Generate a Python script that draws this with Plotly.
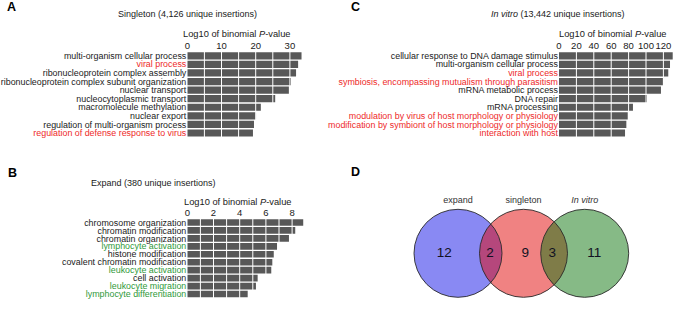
import numpy as np
import plotly.graph_objects as go

W, H = 675, 309

# ---------------- data ----------------
A_terms = ["multi-organism cellular process", "viral process", "ribonucleoprotein complex assembly",
           "ribonucleoprotein complex subunit organization", "nuclear transport",
           "nucleocytoplasmic transport", "macromolecule methylation", "nuclear export",
           "regulation of multi-organism process", "regulation of defense response to virus"]
A_vals = [33.4, 32.4, 31.8, 30.3, 29.7, 25.7, 21.5, 20.1, 19.5, 19.2]
A_hl = [0, 1, 0, 0, 0, 0, 0, 0, 0, 1]

B_terms = ["chromosome organization", "chromatin modification", "chromatin organization",
           "lymphocyte activation", "histone modification", "covalent chromatin modification",
           "leukocyte activation", "cell activation", "leukocyte migration", "lymphocyte differentiation"]
B_vals = [8.85, 8.24, 7.76, 6.85, 6.6, 6.49, 6.41, 5.37, 5.24, 4.61]
B_hl = [0, 0, 0, 1, 0, 0, 1, 0, 1, 1]

C_terms = ["cellular response to DNA damage stimulus", "multi-organism cellular process", "viral process",
           "symbiosis, encompassing mutualism through parasitism", "mRNA metabolic process", "DNA repair",
           "mRNA processing", "modulation by virus of host morphology or physiology",
           "modification by symbiont of host morphology or physiology", "interaction with host"]
C_vals = [130.7, 127.6, 125.6, 119.5, 117.2, 101.1, 85.0, 79.0, 77.4, 75.9]
C_hl = [0, 0, 1, 1, 0, 0, 0, 1, 1, 1]

A_ticks = [0, 10, 20, 30]
B_ticks = [0, 2, 4, 6, 8]
C_ticks = [0, 20, 40, 60, 80, 100, 120]

venn_sets = ["expand", "singleton", "<i>In vitro</i>"]
venn_counts = [12, 2, 9, 3, 11]   # expand only, expand&singleton, singleton only, singleton&in vitro, in vitro only

# ---------------- style ----------------
FONT = "Liberation Sans, Arial, sans-serif"
BAR = "#585858"
RED = "#ee2a2a"
GREEN = "#2f9a3a"
TXT = "#1a1a1a"


def fx(px):
    return px / W


def fy(py):
    return 1 - py / H


fig = go.Figure()
shapes = []
annotations = []

panels = [
    # terms, vals, hl, hlcolor, ticks, xr, grid, xpx0, pxunit, ytop, ybot, axis idx
    (A_terms, A_vals, A_hl, RED, A_ticks, 34, 5, 187.3, 3.42, 51.5, 137.3, 1),
    (B_terms, B_vals, B_hl, GREEN, B_ticks, 9.0, 1, 187.3, 13.1, 218.5, 298.0, 2),
    (C_terms, C_vals, C_hl, RED, C_ticks, 132, 20, 559.0, 0.87, 51.5, 137.3, 3),
]

for terms, vals, hl, hc, ticks, xr, grid, x0, pu, yt, yb, k in panels:
    xa = "x" if k == 1 else f"x{k}"
    ya = "y" if k == 1 else f"y{k}"
    fig.add_trace(go.Bar(x=vals, y=terms, orientation="h", marker=dict(color=BAR, line=dict(width=0)),
                         xaxis=xa, yaxis=ya, showlegend=False, hoverinfo="skip"))
    ticktext = [f'<span style="color:{hc if h else TXT}">{t}</span>' for t, h in zip(terms, hl)]
    xkey = "xaxis" if k == 1 else f"xaxis{k}"
    ykey = "yaxis" if k == 1 else f"yaxis{k}"
    fig.update_layout({
        xkey: dict(domain=[fx(x0), fx(x0 + xr * pu)], range=[0, xr], side="top", anchor=ya,
                   tickvals=ticks, ticks="", showgrid=False, zeroline=False, showline=False,
                   automargin=False, tickangle=0,
                   tickfont=dict(size=9.5, color=TXT, family=FONT), fixedrange=True),
        ykey: dict(domain=[fy(yb), fy(yt)], anchor=xa, type="category", categoryorder="array",
                   categoryarray=terms, autorange="reversed", tickvals=terms, ticktext=ticktext,
                   ticks="", showgrid=False, zeroline=False, showline=False, automargin=False,
                   tickfont=dict(size=8.9, color=TXT, family=FONT), fixedrange=True),
    })
    # white grid lines drawn over the bars
    for g in np.arange(grid, xr, grid):
        shapes.append(dict(type="line", xref=xa, yref=f"{ya} domain", x0=g, x1=g, y0=0, y1=1,
                           line=dict(color="white", width=1), layer="above"))

fig.update_layout(bargap=0.16)

# titles, axis titles, panel letters
def ann(text, x, y, size=9, color=TXT, bold=False, xanchor="center"):
    annotations.append(dict(text=f"<b>{text}</b>" if bold else text, x=fx(x), y=fy(y),
                            xref="paper", yref="paper", showarrow=False, xanchor=xanchor,
                            yanchor="middle", font=dict(size=size, color=color, family=FONT)))

ann("Singleton (4,126 unique insertions)", 187, 14.3, 9.0)
ann("Expand (380 unique insertions)", 153.8, 183.3, 9.0)
ann("<i>In vitro</i> (13,442 unique insertions)", 558, 14.3, 9.0)
ann("Log10 of binomial <i>P</i>-value", 236.5, 34, 9.3)
ann("Log10 of binomial <i>P</i>-value", 237.5, 202.3, 9.3)
ann("Log10 of binomial <i>P</i>-value", 612.5, 34, 9.3)
ann("A", 11.3, 7.5, 12.5, "#000", True)
ann("B", 12.5, 172.7, 12.5, "#000", True)
ann("C", 355.3, 7.5, 12.5, "#000", True)
ann("D", 355.7, 172.3, 12.5, "#000", True)

# ---------------- Venn ----------------
VX0, VX1, VY0, VY1 = 400, 650, 190, 305
fig.update_layout(
    xaxis4=dict(domain=[fx(VX0), fx(VX1)], range=[VX0, VX1], visible=False, anchor="y4",
                fixedrange=True, automargin=False),
    yaxis4=dict(domain=[fy(VY1), fy(VY0)], range=[VY1, VY0], visible=False, anchor="x4",
                fixedrange=True, automargin=False),
)
R = 44
centers = [(458, 253.3), (523.5, 253.3), (584.7, 253.3)]
fills = ["rgb(20,20,232)", "rgb(226,6,6)", "rgb(14,118,14)"]
for (cx, cy), col in zip(centers, fills):
    shapes.append(dict(type="circle", xref="x4", yref="y4", x0=cx - R, x1=cx + R, y0=cy - R, y1=cy + R,
                       fillcolor=col, opacity=0.5, line=dict(width=0), layer="below"))
for (cx, cy) in centers:
    shapes.append(dict(type="circle", xref="x4", yref="y4", x0=cx - R, x1=cx + R, y0=cy - R, y1=cy + R,
                       fillcolor="rgba(0,0,0,0)", line=dict(color="#2a2a2a", width=0.9), layer="below"))

num_x = [444.3, 490, 525.3, 552.3, 594.3]
fig.add_trace(go.Scatter(x=num_x, y=[254] * len(venn_counts), mode="text",
                         text=[str(v) for v in venn_counts], xaxis="x4", yaxis="y4",
                         textfont=dict(size=13.5, color="#111122", family=FONT),
                         showlegend=False, hoverinfo="skip"))
fig.add_trace(go.Scatter(x=[c[0] for c in centers], y=[200.7] * 3, mode="text", text=venn_sets,
                         xaxis="x4", yaxis="y4", textfont=dict(size=9, color="#333", family=FONT),
                         showlegend=False, hoverinfo="skip"))

fig.update_layout(width=W, height=H, margin=dict(l=0, r=0, t=0, b=0, autoexpand=False),
                  paper_bgcolor="white", plot_bgcolor="white", shapes=shapes, annotations=annotations,
                  font=dict(family=FONT, color=TXT))
fig.write_html("out.html", config={"displayModeBar": False},
               post_script="document.body.style.margin='0';document.body.style.overflow='hidden';")
